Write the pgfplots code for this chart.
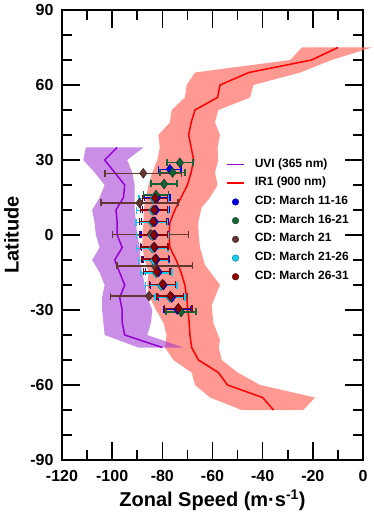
\documentclass[border=0pt]{standalone}
\usepackage{fontspec}
\setmainfont{Liberation Sans}
\usepackage{pgfplots}
\pgfplotsset{compat=1.18}
\definecolor{uvi}{RGB}{148,0,211}
\definecolor{uviband}{RGB}{160,50,210}
\definecolor{irband}{RGB}{255,110,100}
\definecolor{cdblue}{RGB}{0,0,230}
\definecolor{cdgreen}{RGB}{20,100,55}
\definecolor{cdbrown}{RGB}{100,55,50}
\definecolor{cdcyan}{RGB}{20,200,240}
\definecolor{cdred}{RGB}{140,0,0}
\pgfplotsset{
  cdstyle/.style={forget plot, only marks, mark=diamond*, mark size=4.8pt, color=#1,
    mark options={fill=#1, draw=#1!60!black, line width=0.6pt},
    error bars/.cd, x dir=both, x explicit, error mark=|,
    error bar style={line width=1.4pt, color=#1},
    error mark options={mark size=3.5pt, line width=1.4pt, color=#1}},
}
\begin{document}
\begin{tikzpicture}
\useasboundingbox (-62pt,-52pt) rectangle (312pt,460pt);
\begin{axis}[
  scale only axis, width=301pt, height=450pt,
  xmin=-120, xmax=0, ymin=-90, ymax=90, clip=false,
  xtick={-120,-100,...,0}, minor x tick num=1,
  ytick={-90,-60,...,90}, minor y tick num=2,
  xticklabels={-120,-100,-80,-60,-40,-20,0},
  yticklabels={-90,-60,-30,0,30,60,90},
  tick align=inside, major tick length=18pt, minor tick length=10pt,
  axis line style={line width=1.6pt},
  every tick/.style={black, line width=1.6pt},
  ticklabel style={font=\fontsize{16}{19}\selectfont\bfseries},
  xticklabel style={yshift=-6.4pt},
  yticklabel style={xshift=-5pt},
  xlabel={Zonal Speed (m·s\textsuperscript{-1})},
  ylabel={Latitude},
  label style={font=\fontsize{20}{24}\selectfont\bfseries},
  xlabel style={at={(axis description cs:0.5,-0.1038)}, anchor=base},
  ylabel style={at={(axis description cs:-0.1678,0.5)}, anchor=center},
  legend style={at={(axis cs:-55.8,32.8)}, anchor=north west, draw=none, fill=none,
    font=\fontsize{12}{14}\selectfont\bfseries, row sep=0pt,
    nodes={inner sep=0pt, text height=12pt, text depth=6.7pt},
    /tikz/every odd column/.append style={column sep=10pt}},
  legend cell align=left,
]
% IR1 band
\addplot[forget plot, draw=none, fill=irband, fill opacity=0.7] coordinates {
(-24.4,75) (-29,70) (-67,65) (-70.3,60) (-71,55) (-76.3,50) (-77,45) (-81.6,40)
(-81,35) (-82,30) (-84,25) (-85.5,20) (-86.5,15) (-87.5,10) (-87.5,5) (-88,0)
(-88,-5) (-87,-10) (-85.5,-15) (-86,-20) (-85,-25) (-82.5,-30) (-79.6,-35)
(-78.3,-40) (-78.9,-45) (-75.6,-50) (-68.3,-55) (-67,-60) (-61,-65) (-48.4,-70)
(-23.8,-70) (-19.1,-65) (-41,-60) (-50,-55) (-56.3,-50) (-57.5,-45) (-57,-42)
(-59.7,-35) (-60.3,-28) (-57,-20) (-63,-12) (-65,-5) (-65.5,0) (-65.7,5)
(-64.3,11) (-61,15) (-58,20) (-59,25) (-57.7,30) (-58,35) (-57,40) (-59,45)
(-57.7,50) (-45,55) (-43.7,60) (-25,65) (-12.5,70) (3.5,75)
} -- cycle;
% UVI band
\addplot[forget plot, draw=none, fill=uviband, fill opacity=0.55] coordinates {
(-110.5,35) (-111.5,30) (-107,25) (-103,20) (-105,15) (-108,10) (-107,5)
(-106.5,0) (-105,-5) (-108,-10) (-105,-15) (-103,-20) (-104,-25) (-104,-30)
(-103.5,-35) (-103,-40) (-89.6,-45)
(-71.6,-45) (-86,-40) (-84.5,-35) (-84,-30) (-86,-25) (-87,-20) (-88,-15)
(-89,-10) (-89,-5) (-90,0) (-90.5,5) (-91,10) (-91,15) (-91,20) (-92,25)
(-94,30) (-87.5,35)
} -- cycle;
% UVI line
\addplot[uvi, line width=1.5pt] coordinates {
(-98,35) (-103,30) (-99,25) (-95,20) (-95.5,15) (-98.5,10) (-98,5) (-98,0)
(-96,-5) (-99,-10) (-97,-15) (-95,-20) (-97,-25) (-96,-30) (-96,-35) (-95,-40)
(-80,-45)
};
\addlegendentry{UVI (365 nm)}
% IR1 line
\addplot[red, line width=1.5pt] coordinates {
(-10,75) (-20.5,70) (-45.5,65) (-57,60) (-58,55) (-67,50) (-68.5,45) (-69.5,40)
(-68.5,35) (-67.5,30) (-68.5,25) (-70,20) (-72.5,15) (-75,10) (-77,5) (-77.3,0)
(-77,-5) (-74.5,-10) (-72.5,-15) (-71,-20) (-70.3,-25) (-69.8,-30) (-69.3,-35)
(-69,-40) (-68.3,-45) (-65.6,-50) (-57.7,-55) (-54,-60) (-40,-65) (-35.7,-70)
};
\addlegendentry{IR1 (900 nm)}
% CD March 21 (brown)
\addplot[cdstyle=cdbrown] table[x=x, y=y, x error=e] {
x y e
-87.6 24.7 15.3
-89.1 12.8 15.3
-84.7 0.3 15.1
-83.0 -12.4 15.1
-85.3 -24.4 15.3
};
% CD March 11-16 (blue)
\addplot[cdstyle=cdblue] table[x=x, y=y, x error=e] {
x y e
-77.0 26.3 4.5
-82.0 15.0 5.0
-82.5 10.0 5.3
-83.0 5.3 5.2
-83.0 0.0 5.5
-83.0 -5.0 5.3
-82.3 -9.8 5.2
-81.5 -14.8 5.2
-79.5 -20.0 5.3
-76.2 -25.0 5.3
-74.0 -29.8 5.3
};
% CD March 16-21 (green)
\addplot[cdstyle=cdgreen] table[x=x, y=y, x error=e] {
x y e
-73.0 28.9 5.2
-75.9 25.0 5.0
-79.3 20.4 5.2
-82.5 16.0 5.0
-72.5 -30.8 6.0
};
% CD March 21-26 (cyan)
\addplot[cdstyle=cdcyan] table[x=x, y=y, x error=e] {
x y e
-83.5 14.5 5.8
-84.0 9.8 6.3
-84.2 5.0 6.3
-84.0 -0.3 6.3
-84.0 -5.3 6.3
-83.5 -10.2 6.0
-82.5 -15.2 6.3
-80.5 -20.3 6.3
-77.0 -25.0 6.0
};
% CD March 26-31 (dark red)
\addplot[cdstyle=cdred] table[x=x, y=y, x error=e] {
x y e
-82.9 14.7 5.0
-83.3 10.0 5.3
-83.7 5.3 5.3
-83.5 0.0 5.5
-83.3 -4.8 5.5
-82.8 -9.6 5.3
-82.2 -14.7 5.3
-79.9 -19.7 5.2
-76.8 -24.4 5.3
-73.6 -29.3 5.5
};
\addlegendimage{only marks, mark=*, mark size=3.3pt, color=cdblue, mark options={fill=cdblue, draw=cdblue!60!black}}
\addlegendentry{CD: March 11-16}
\addlegendimage{only marks, mark=*, mark size=3.3pt, color=cdgreen, mark options={fill=cdgreen, draw=cdgreen!60!black}}
\addlegendentry{CD: March 16-21}
\addlegendimage{only marks, mark=*, mark size=3.3pt, color=cdbrown, mark options={fill=cdbrown, draw=cdbrown!60!black}}
\addlegendentry{CD: March 21}
\addlegendimage{only marks, mark=*, mark size=3.3pt, color=cdcyan, mark options={fill=cdcyan, draw=cdcyan!60!black}}
\addlegendentry{CD: March 21-26}
\addlegendimage{only marks, mark=*, mark size=3.3pt, color=cdred, mark options={fill=cdred, draw=cdred!60!black}}
\addlegendentry{CD: March 26-31}
\end{axis}
\end{tikzpicture}
\end{document}
